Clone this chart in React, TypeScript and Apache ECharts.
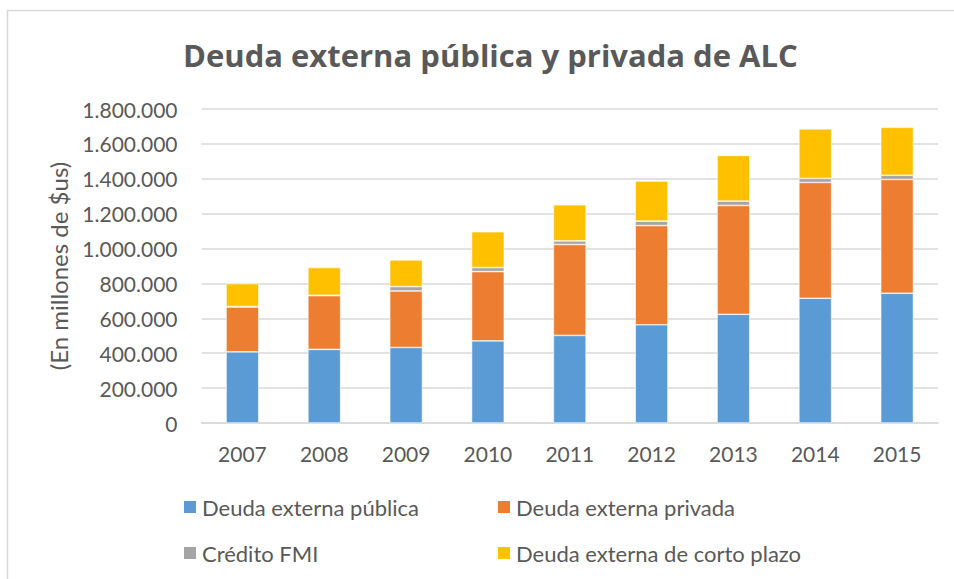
import React, { useEffect, useRef } from "react";
import * as echarts from "echarts";

const years = ["2007", "2008", "2009", "2010", "2011", "2012", "2013", "2014", "2015"];
const deudaPublica = [408000, 422000, 433000, 471000, 502000, 563000, 623000, 715000, 744000];
const deudaPrivada = [257000, 308000, 324000, 397000, 521000, 569000, 624000, 664000, 652000];
const creditoFMI = [3000, 2000, 25000, 23000, 21000, 25000, 25000, 23000, 24000];
const cortoPlazo = [131000, 159000, 153000, 205000, 207000, 230000, 262000, 284000, 275000];

const seriesNames = [
  "Deuda externa pública",
  "Deuda externa privada",
  "Crédito FMI",
  "Deuda externa de corto plazo",
];
const colors = ["#5b9bd5", "#ed7d31", "#a5a5a5", "#ffc000"];
const yTickMax = 1800000;
const yTickStep = 200000;

const FONT = "Lato, 'Open Sans', sans-serif";
const TITLE_FONT = "'Open Sans', Lato, sans-serif";
const TXT = "#595959";

function fmt(v: number): string {
  return String(Math.round(v)).replace(/\B(?=(\d{3})+(?!\d))/g, ".");
}

export default function App() {
  const ref = useRef<HTMLDivElement>(null);
  useEffect(() => {
    if (!ref.current) return;
    const chart = echarts.init(ref.current, undefined, { renderer: "svg" });
    const data = [deudaPublica, deudaPrivada, creditoFMI, cortoPlazo];
    const legendPos = [
      { left: 182, top: 496 },
      { left: 496, top: 496 },
      { left: 182, top: 542 },
      { left: 496, top: 542 },
    ];
    chart.setOption({
      animation: false,
      backgroundColor: "#ffffff",
      textStyle: { fontFamily: FONT },
      title: {
        text: "Deuda externa pública y privada de ALC",
        left: 183,
        top: 39,
        padding: 0,
        textStyle: { fontFamily: TITLE_FONT, fontSize: 31, fontWeight: "bold", color: TXT },
      },
      graphic: [
        {
          type: "rect",
          shape: { x: 7.5, y: 10.5, width: 1000, height: 1000 },
          style: { fill: "none", stroke: "#d9d9d9", lineWidth: 1.5 },
          silent: true,
        },
      ],
      legend: seriesNames.map((n, i) => ({
        data: [n],
        left: legendPos[i].left,
        top: legendPos[i].top,
        padding: 0,
        icon: "rect",
        itemWidth: 14,
        itemHeight: 14,
        textStyle: { fontFamily: FONT, fontSize: 22, color: TXT },
      })),
      grid: { left: 201.5, right: 16, top: 109, bottom: 156, containLabel: false },
      xAxis: {
        type: "category",
        data: years,
        axisLine: { lineStyle: { color: "#d9d9d9", width: 1.5 } },
        axisTick: { show: false },
        axisLabel: { fontFamily: FONT, fontSize: 21, color: TXT, margin: 20 },
      },
      yAxis: {
        type: "value",
        min: 0,
        max: yTickMax,
        interval: yTickStep,
        name: "(En millones de $us)",
        nameLocation: "middle",
        nameGap: 131,
        nameTextStyle: { fontFamily: FONT, fontSize: 24, color: TXT },
        axisLine: { show: false },
        axisTick: { show: false },
        splitLine: { lineStyle: { color: "#d9d9d9", width: 1.5 } },
        axisLabel: {
          fontFamily: FONT,
          fontSize: 21,
          color: TXT,
          margin: 24,
          formatter: (v: number) => fmt(v),
        },
      },
      series: seriesNames.map((n, i) => ({
        name: n,
        type: "bar",
        stack: "total",
        data: data[i],
        barWidth: "40%",
        itemStyle: { color: colors[i], borderColor: "#ffffff", borderWidth: 0.6 },
      })),
    });
    return () => chart.dispose();
  }, []);
  return (
    <div
      ref={ref}
      style={{ position: "fixed", left: 0, top: 0, width: 954, height: 579 }}
    />
  );
}
